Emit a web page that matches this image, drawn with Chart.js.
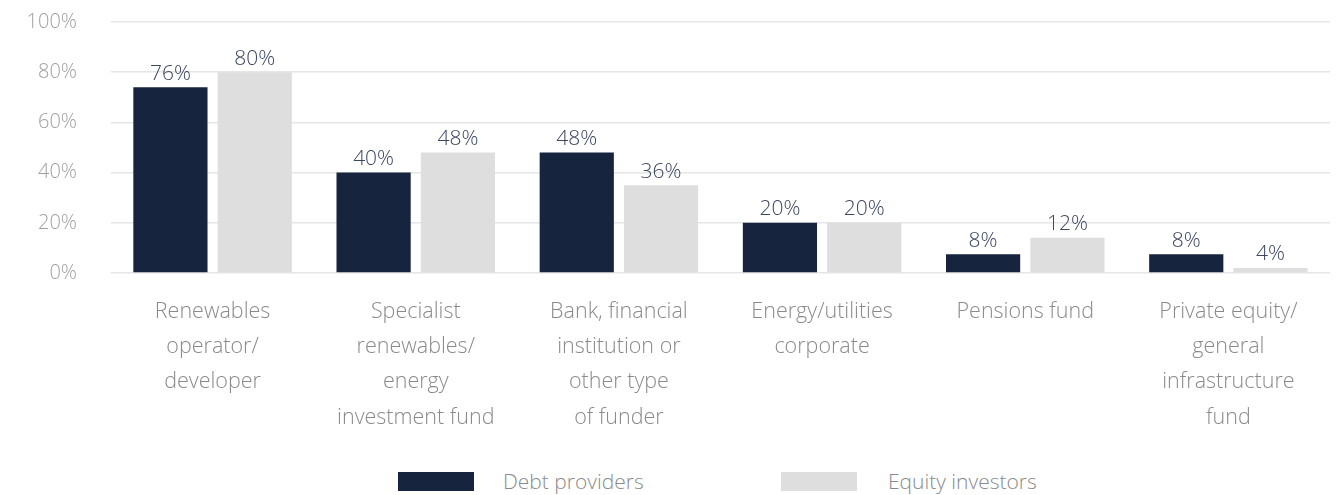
<!DOCTYPE html>
<html lang="en">
<head>
    <meta charset="UTF-8">
    <title>Debt providers vs equity investors</title>
    <script src="https://cdn.jsdelivr.net/npm/chart.js"></script>
    <style>
        html, body { margin: 0; padding: 0; background: #fff; }
        body { width: 1338px; height: 495px; position: relative; overflow: hidden; font-family: "Open Sans", sans-serif; font-weight: 300; }
        .chart-box { position: absolute; left: 0; top: -24px; width: 1338px; height: 474px; }
        .legend { position: absolute; top: 470px; left: 0; width: 1338px; height: 22px; color: #8a8a8a; font-size: 21px; }
        .legend span { position: absolute; top: 0; line-height: 22px; }
        .legend i { position: absolute; top: 2px; width: 76px; height: 19px; }
    </style>
</head>
<body>
    <div class="chart-box">
        <canvas id="chart"></canvas>
    </div>
    <div class="legend">
        <i style="left:398px; background:#16243e"></i><span style="left:503px">Debt providers</span>
        <i style="left:781px; background:#dedede"></i><span style="left:888px">Equity investors</span>
    </div>

    <script>
        // categories (one array per line of the label)
        const categories = [
            ['Renewables', 'operator/', 'developer'],
            ['Specialist', 'renewables/', 'energy', 'investment fund'],
            ['Bank, financial', 'institution or', 'other type', 'of funder'],
            ['Energy/utilities', 'corporate'],
            ['Pensions fund'],
            ['Private equity/', 'general', 'infrastructure', 'fund']
        ];

        // bar heights as drawn in the picture
        const debtBars = [74, 40, 48, 20, 7.5, 7.5];
        const equityBars = [80, 48, 35, 20, 14, 2];

        // printed values above the bars
        const debtLabels = [76, 40, 48, 20, 8, 8];
        const equityLabels = [80, 48, 36, 20, 12, 4];

        const yTicks = [0, 20, 40, 60, 80, 100];

        // draws the value text above each bar
        const valueLabels = {
            id: 'valueLabels',
            afterDatasetsDraw(chart) {
                const ctx = chart.ctx;
                ctx.save();
                ctx.font = '300 21px "Open Sans"';
                ctx.fillStyle = '#3b4661';
                ctx.textAlign = 'center';
                ctx.textBaseline = 'bottom';
                chart.data.datasets.forEach((ds, i) => {
                    chart.getDatasetMeta(i).data.forEach((bar, j) => {
                        ctx.fillText(ds.printed[j] + '%', bar.x, bar.y - 3);
                    });
                });
                ctx.restore();
            }
        };

        function createChart() {
            const ctx = document.getElementById('chart').getContext('2d');
            new Chart(ctx, {
                type: 'bar',
                data: {
                    labels: categories,
                    datasets: [{
                        label: 'Debt providers',
                        data: debtBars,
                        printed: debtLabels,
                        backgroundColor: '#16243e',
                        categoryPercentage: 0.83,
                        barPercentage: 0.88
                    }, {
                        label: 'Equity investors',
                        data: equityBars,
                        printed: equityLabels,
                        backgroundColor: '#dedede',
                        categoryPercentage: 0.83,
                        barPercentage: 0.88
                    }]
                },
                options: {
                    responsive: true,
                    maintainAspectRatio: false,
                    animation: false,
                    layout: { padding: { top: 0, right: 8, left: 0, bottom: 0 } },
                    scales: {
                        y: {
                            min: 0,
                            max: 100,
                            afterBuildTicks: s => { s.ticks = yTicks.map(v => ({ value: v })); },
                            afterFit: s => { s.width = 111; },
                            border: { display: false },
                            grid: { color: '#e6e6e6', lineWidth: 1.5, drawTicks: false },
                            ticks: {
                                padding: 34,
                                color: '#a0a0a0',
                                font: { family: 'Open Sans', size: 20, weight: 300 },
                                callback: v => v + '%'
                            }
                        },
                        x: {
                            border: { display: false },
                            grid: { display: false, drawTicks: false },
                            afterFit: s => { s.height = 177; },
                            ticks: {
                                padding: 21,
                                color: '#8a8a8a',
                                maxRotation: 0,
                                autoSkip: false,
                                font: { family: 'Open Sans', size: 21.5, weight: 300, lineHeight: 1.64 }
                            }
                        }
                    },
                    plugins: {
                        legend: { display: false },
                        tooltip: { enabled: false }
                    }
                },
                plugins: [valueLabels]
            });
        }

        window.onload = createChart;
    </script>
</body>
</html>
